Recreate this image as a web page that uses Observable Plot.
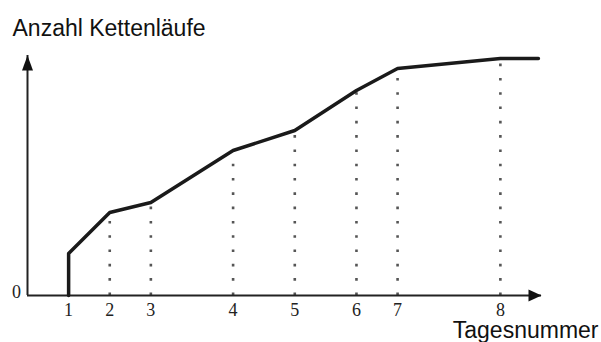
<!DOCTYPE html>
<html>
<head>
<meta charset="utf-8">
<script src="https://cdn.jsdelivr.net/npm/d3@7"></script>
<script src="https://cdn.jsdelivr.net/npm/@observablehq/plot@0.6"></script>
<style>
  html, body { margin: 0; padding: 0; background: #fff; }
</style>
</head>
<body>
<div id="chart"></div>
<script>
// Data
const tagesnummer = ["1", "2", "3", "4", "5", "6", "7", "8"];       // tick labels
const zeitpunkt = [0, 2, 4, 8, 11, 14, 16, 21];                     // horizontal position of each day
const kettenlaeufe = [4.2, 8.3, 9.3, 14.5, 16.5, 20.5, 22.7, 23.7]; // cumulative chain runs (arbitrary units)
const zeitEnde = 22.85;                                             // end of the flat final segment
const yTickLabels = ["0"];
const titel = "Anzahl Kettenläufe";
const xTitel = "Tagesnummer";

const punkte = zeitpunkt.map((t, i) => ({t, v: kettenlaeufe[i], label: tagesnummer[i]}));
const linie = [{t: zeitpunkt[0], v: 0}, ...punkte, {t: zeitEnde, v: kettenlaeufe[kettenlaeufe.length - 1]}];

const upArrow = {draw(ctx) { ctx.moveTo(0, 0); ctx.lineTo(5.5, 15); ctx.lineTo(-5.5, 15); ctx.closePath(); }};
const rightArrow = {draw(ctx) { ctx.moveTo(0, 0); ctx.lineTo(-13, 6); ctx.lineTo(-13, -6); ctx.closePath(); }};

const xMin = -2, xMax = 23, yMax = 24;

const chart = Plot.plot({
  width: 601,
  height: 342,
  marginLeft: 27,
  marginRight: 60,
  marginTop: 55,
  marginBottom: 47,
  x: {domain: [xMin, xMax], axis: null},
  y: {domain: [0, yMax], axis: null},
  style: {background: "#fff", overflow: "visible"},
  marks: [
    // dotted drop lines
    Plot.ruleX(punkte, {x: "t", y1: 0, y2: "v", stroke: "#555", strokeWidth: 2.6, strokeDasharray: "2.6,11.7"}),
    // axes
    Plot.ruleY([0], {stroke: "#222", strokeWidth: 2}),
    Plot.ruleX([xMin], {stroke: "#222", strokeWidth: 2}),
    Plot.dot([{x: xMin, y: yMax}], {x: "x", y: "y", symbol: upArrow, r: 5, fill: "#111", stroke: "none"}),
    Plot.dot([{x: xMax, y: 0}], {x: "x", y: "y", symbol: rightArrow, r: 5, fill: "#111", stroke: "none"}),
    // main line
    Plot.line(linie, {x: "t", y: "v", stroke: "#1a1a1a", strokeWidth: 3.5, strokeLinejoin: "round"}),
    // tick labels
    Plot.text(punkte, {x: "t", y: 0, text: "label", dy: 20, lineAnchor: "bottom", fontFamily: "Liberation Serif", fontSize: 18, fill: "#222"}),
    Plot.text(yTickLabels, {x: xMin, y: 0, text: d => d, dx: -11, dy: 2, lineAnchor: "bottom", fontFamily: "Liberation Serif", fontSize: 18, fill: "#222"}),
    // titles
    Plot.text([titel], {frameAnchor: "top-left", text: d => d, dx: -15, dy: -20, lineAnchor: "bottom", textAnchor: "start", fontFamily: "Liberation Sans", fontSize: 23, fill: "#111"}),
    Plot.text([xTitel], {frameAnchor: "bottom-right", text: d => d, dx: 57, dy: 42, lineAnchor: "bottom", textAnchor: "end", fontFamily: "Liberation Sans", fontSize: 23, fill: "#111"})
  ]
});
document.getElementById("chart").appendChild(chart);
</script>
</body>
</html>
